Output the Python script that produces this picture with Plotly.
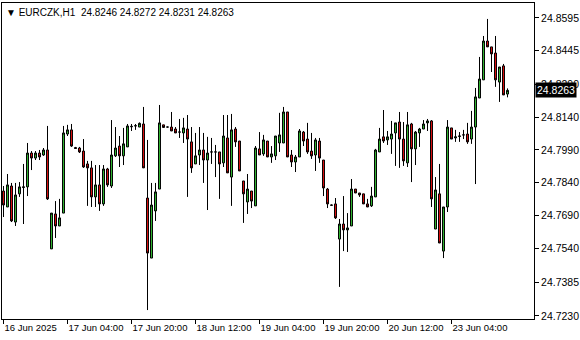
import plotly.graph_objects as go

symbol = "EURCZK,H1"

opens = [
    24.7802, 24.7729, 24.7825, 24.7660, 24.7789, 24.7818, 24.7821, 24.7976, 24.7953, 24.7976,
    24.7967, 24.7990, 24.7537, 24.7697, 24.7642, 24.7701, 24.8063, 24.8082, 24.8001, 24.7999,
    24.7985, 24.7926, 24.7908, 24.7775, 24.7830, 24.7743, 24.7903, 24.7825, 24.7963, 24.8008,
    24.7963, 24.8004, 24.8096, 24.8100, 24.8095, 24.8109, 24.7770, 24.7495, 24.7711, 24.7811,
    24.8105, 24.8095, 24.8095, 24.8086, 24.8072, 24.8068, 24.8086, 24.8027, 24.7926, 24.7967,
    24.7990, 24.7944, 24.7981, 24.7981, 24.7981, 24.7931, 24.8045, 24.7866, 24.8086, 24.8031,
    24.7848, 24.7752, 24.7802, 24.7734, 24.7995, 24.7972, 24.8031, 24.7958, 24.7963, 24.8022,
    24.8022, 24.8164, 24.7967, 24.7935, 24.7958, 24.8072, 24.8040, 24.7985, 24.7967, 24.8031,
    24.7944, 24.7811, 24.7738, 24.7743, 24.7582, 24.7651, 24.7624, 24.7642, 24.7811, 24.7793,
    24.7789, 24.7743, 24.7734, 24.7775, 24.7981, 24.8050, 24.8036, 24.8040, 24.8068, 24.8118,
    24.8040, 24.7931, 24.8109, 24.7995, 24.8068, 24.8086, 24.8114, 24.8123, 24.7628, 24.7789,
    24.7527, 24.7729, 24.8091, 24.8045, 24.8052, 24.8059, 24.8063, 24.8040, 24.8095, 24.8228,
    24.8311, 24.8489, 24.8462, 24.8434, 24.8301, 24.8375, 24.8246,
]
highs = [
    24.7825, 24.7880, 24.7839, 24.7839, 24.7843, 24.7926, 24.8022, 24.7985, 24.7985, 24.7990,
    24.7999, 24.8100, 24.7701, 24.7756, 24.7766, 24.8100, 24.8105, 24.8109, 24.8004, 24.8004,
    24.8040, 24.7940, 24.7940, 24.7921, 24.7921, 24.7921, 24.7908, 24.8127, 24.8095, 24.8054,
    24.8091, 24.8109, 24.8109, 24.8109, 24.8116, 24.8187, 24.8036, 24.7839, 24.7839, 24.8196,
    24.8105, 24.8096, 24.8164, 24.8095, 24.8132, 24.8137, 24.8150, 24.8095, 24.8068, 24.8095,
    24.8068, 24.8050, 24.8045, 24.8013, 24.7981, 24.8150, 24.8150, 24.8155, 24.8095, 24.8031,
    24.7848, 24.7880, 24.7802, 24.8008, 24.8072, 24.8059, 24.8031, 24.8008, 24.8054, 24.8160,
    24.8187, 24.8164, 24.7990, 24.7967, 24.8086, 24.8077, 24.8114, 24.8068, 24.8045, 24.8045,
    24.7944, 24.7816, 24.7740, 24.7770, 24.7674, 24.7779, 24.7701, 24.7857, 24.7811, 24.7793,
    24.7789, 24.7766, 24.7821, 24.7995, 24.8091, 24.8173, 24.8077, 24.8123, 24.8114, 24.8164,
    24.8118, 24.8164, 24.8114, 24.8077, 24.8091, 24.8127, 24.8132, 24.8127, 24.7866, 24.7926,
    24.7729, 24.8127, 24.8091, 24.8082, 24.8072, 24.8082, 24.8114, 24.8169, 24.8274, 24.8416,
    24.8512, 24.8590, 24.8462, 24.8512, 24.8370, 24.8384, 24.8272,
]
lows = [
    24.7683, 24.7729, 24.7660, 24.7642, 24.7775, 24.7651, 24.7779, 24.7898, 24.7944, 24.7944,
    24.7963, 24.7761, 24.7537, 24.7587, 24.7642, 24.7701, 24.8054, 24.8004, 24.7995, 24.7976,
    24.7908, 24.7734, 24.7729, 24.7729, 24.7711, 24.7734, 24.7821, 24.7816, 24.7958, 24.7912,
    24.7921, 24.8004, 24.8077, 24.8082, 24.8095, 24.7908, 24.7257, 24.7495, 24.7665, 24.7811,
    24.8093, 24.8094, 24.8077, 24.8068, 24.8045, 24.8022, 24.7775, 24.7885, 24.7926, 24.7921,
    24.7839, 24.7715, 24.7926, 24.7866, 24.7766, 24.7912, 24.7885, 24.7734, 24.8004, 24.7894,
    24.7656, 24.7697, 24.7724, 24.7734, 24.7967, 24.7963, 24.7958, 24.7931, 24.7944, 24.7981,
    24.8022, 24.7958, 24.7912, 24.7889, 24.7958, 24.8008, 24.7972, 24.7949, 24.7894, 24.7931,
    24.7779, 24.7724, 24.7736, 24.7674, 24.7363, 24.7527, 24.7523, 24.7642, 24.7793, 24.7775,
    24.7743, 24.7729, 24.7729, 24.7775, 24.7981, 24.8022, 24.8013, 24.7972, 24.7917, 24.7908,
    24.7917, 24.7912, 24.7843, 24.7921, 24.8004, 24.8086, 24.8077, 24.7729, 24.7628, 24.7564,
    24.7495, 24.7706, 24.8040, 24.8027, 24.8027, 24.8040, 24.8018, 24.8018, 24.7834, 24.8228,
    24.8311, 24.8462, 24.8347, 24.8279, 24.8210, 24.8242, 24.8231,
]
closes = [
    24.7738, 24.7830, 24.7665, 24.7784, 24.7821, 24.7821, 24.7976, 24.7953, 24.7976, 24.7958,
    24.7990, 24.7766, 24.7701, 24.7642, 24.7679, 24.8068, 24.8082, 24.8008, 24.7997, 24.7981,
    24.7912, 24.7908, 24.7775, 24.7830, 24.7743, 24.7903, 24.7830, 24.7967, 24.7999, 24.7963,
    24.8018, 24.8100, 24.8098, 24.8101, 24.8112, 24.7908, 24.7518, 24.7738, 24.7798, 24.8114,
    24.8093, 24.8095, 24.8077, 24.8068, 24.8072, 24.8091, 24.8040, 24.7908, 24.7963, 24.7990,
    24.7944, 24.7976, 24.7981, 24.7981, 24.7926, 24.8054, 24.7885, 24.8082, 24.8027, 24.7894,
    24.7789, 24.7811, 24.7756, 24.7999, 24.7967, 24.8036, 24.7958, 24.7972, 24.8054, 24.8059,
    24.8164, 24.7958, 24.7935, 24.7958, 24.8077, 24.8031, 24.7981, 24.7963, 24.8036, 24.7953,
    24.7816, 24.7743, 24.7737, 24.7679, 24.7651, 24.7624, 24.7633, 24.7811, 24.7793, 24.7784,
    24.7743, 24.7729, 24.7779, 24.7990, 24.8040, 24.8031, 24.8050, 24.8063, 24.8114, 24.8040,
    24.7940, 24.8105, 24.7995, 24.8072, 24.8086, 24.8109, 24.8123, 24.7766, 24.7807, 24.7564,
    24.7729, 24.8095, 24.8040, 24.8050, 24.8054, 24.8059, 24.8027, 24.8095, 24.8233, 24.8315,
    24.8489, 24.8462, 24.8430, 24.8311, 24.8370, 24.8242, 24.8263,
]
bars = list(range(len(opens)))

time_labels = ["16 Jun 2025", "17 Jun 04:00", "17 Jun 20:00", "18 Jun 12:00",
               "19 Jun 04:00", "19 Jun 20:00", "20 Jun 12:00", "23 Jun 04:00"]
time_label_bars = [0, 16, 32, 48, 64, 80, 96, 112]

price_ticks = [24.8595, 24.8445, 24.8290, 24.8140, 24.7990, 24.7840,
               24.7690, 24.7540, 24.7385, 24.7230]

y_range = [24.7216, 24.8663]
x_range = [-0.375, 132.625]

FONT = "Liberation Sans, Arial, sans-serif"
FS = 10.5
FS_X = 9.5
FS_HEAD = 10
GREEN = "#33bb33"
RED = "#e01010"

fig = go.Figure(go.Candlestick(
    x=bars, open=opens, high=highs, low=lows, close=closes,
    increasing=dict(line=dict(color="black", width=1), fillcolor=GREEN),
    decreasing=dict(line=dict(color="black", width=1), fillcolor=RED),
    whiskerwidth=0, hoverinfo="skip", showlegend=False,
))

last = closes[-1]
header = (f"\u25BC {symbol}\u00a0\u00a0{opens[-1]:.4f} {highs[-1]:.4f} "
          f"{lows[-1]:.4f} {closes[-1]:.4f}")

fig.update_layout(
    width=580, height=340,
    margin=dict(l=2, r=46, t=3, b=21, autoexpand=False),
    paper_bgcolor="white", plot_bgcolor="white",
    boxgap=0.3,
    font=dict(family=FONT, size=FS, color="black"),
    xaxis=dict(
        range=x_range, rangeslider=dict(visible=False),
        showgrid=False, zeroline=False, automargin=False,
        showline=True, linecolor="black", linewidth=1, mirror=True,
        tickmode="array", tickvals=time_label_bars, ticktext=time_labels,
        ticks="outside", ticklen=4, tickcolor="black", tickwidth=1,
        tickangle=0, ticklabelposition="outside right",
        tickfont=dict(family=FONT, size=FS_X, color="black"),
    ),
    yaxis=dict(
        range=y_range, side="right",
        showgrid=False, zeroline=False, automargin=False,
        showline=True, linecolor="black", linewidth=1, mirror=True,
        tickmode="array", tickvals=price_ticks,
        ticktext=[f"{v:.4f}" for v in price_ticks],
        ticks="outside", ticklen=4, tickcolor="black", tickwidth=1,
        tickfont=dict(family=FONT, size=FS, color="black"),
    ),
    annotations=[
        dict(text=header, xref="paper", yref="paper", x=0, y=1,
             xanchor="left", yanchor="top", xshift=2, yshift=-2,
             showarrow=False, font=dict(family=FONT, size=FS_HEAD, color="black")),
        dict(text=f"{last:.4f}", xref="paper", yref="y", x=1, y=last,
             xanchor="left", yanchor="middle", xshift=1,
             showarrow=False, bgcolor="black", borderpad=1,
             font=dict(family=FONT, size=FS, color="white")),
    ],
)

fig.write_html("out.html")
